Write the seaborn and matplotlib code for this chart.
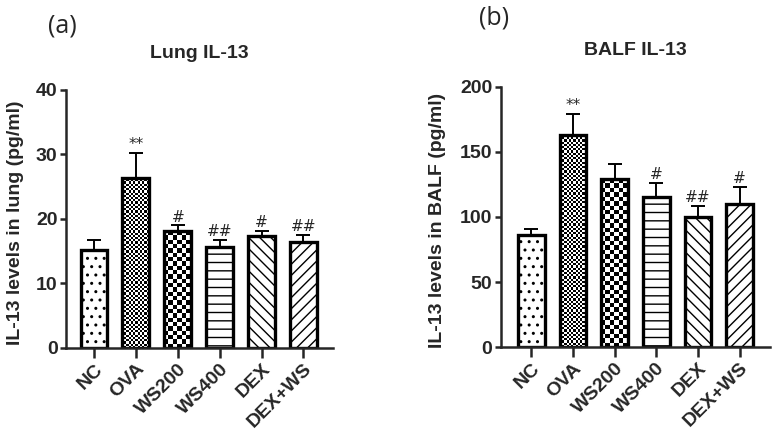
import numpy as np
import matplotlib
matplotlib.use("Agg")
import matplotlib.pyplot as plt
import seaborn as sns

# group names and values
groups = ["NC", "OVA", "WS200", "WS400", "DEX", "DEX+WS"]

lung_mean = [15.2, 26.4, 18.1, 15.7, 17.4, 16.4]
lung_err = [1.5, 3.8, 0.9, 1.1, 0.8, 1.1]
lung_sig = ["", "**", "#", "##", "#", "##"]

balf_mean = [86.0, 162.7, 129.0, 115.7, 100.3, 110.0]
balf_err = [4.7, 16.7, 11.4, 10.3, 8.4, 12.9]
balf_sig = ["", "**", "", "#", "##", "#"]

sns.set_style("ticks")
plt.rcParams['font.family'] = ['Liberation Sans', 'DejaVu Sans']
plt.rcParams['hatch.linewidth'] = 1.0

fig = plt.figure(figsize=(7.75, 4.41), dpi=100)
ax1 = fig.add_axes([0.085, 0.211, 0.345, 0.585])
ax2 = fig.add_axes([0.646, 0.213, 0.347, 0.590])

hatches = ["..", None, None, "--", "\\\\\\", "///"]
checker = {1: 2.2, 2: 4.4}  # bar index -> cell size in px


def panel(ax, means, errs, sigs, title, ylabel, ymax, step, xlim, labx):
    sns.barplot(x=groups, y=means, color="white", edgecolor="black",
                linewidth=2.4, width=0.64, saturation=1, ax=ax)
    ax.set_xlim(*xlim)
    ax.set_ylim(0, ymax)
    ax.set_yticks(np.arange(0, ymax + 1, step))

    # error bars, upper half only
    x = np.arange(len(groups))
    ax.errorbar(x, means, yerr=[np.zeros(len(means)), errs], fmt="none",
                ecolor="black", elinewidth=1.4, capsize=4.7, capthick=1.4,
                zorder=0.5)

    for i, p in enumerate(ax.patches):
        if hatches[i]:
            p.set_hatch(hatches[i])
        if i in checker:
            # checkerboard fill clipped to the bar
            x0, w, h = p.get_x(), p.get_width(), p.get_height()
            (px0, py0), (px1, py1) = ax.transData.transform([(x0, 0), (x0 + w, h)])
            cols = max(1, int(round((px1 - px0) / checker[i])))
            rows = max(1, int(round((py1 - py0) / checker[i])))
            arr = np.indices((rows, cols)).sum(axis=0) % 2
            im = ax.imshow(arr, cmap="gray_r", extent=(x0, x0 + w, 0, h),
                           origin="lower", aspect="auto",
                           interpolation="nearest", zorder=0.8)
            im.set_clip_path(p)
            p.set_facecolor("none")
    ax.set_xlim(*xlim)
    ax.set_ylim(0, ymax)
    ax.set_aspect("auto")

    for i, s in enumerate(sigs):
        if s:
            ax.annotate(s, (i, means[i] + errs[i]), xytext=(0, 0.5),
                        textcoords="offset points", ha="center", va="bottom",
                        fontsize=11, family="DejaVu Sans")

    sns.despine(ax=ax)
    for sp in ["left", "bottom"]:
        ax.spines[sp].set_linewidth(1.8)
    ax.tick_params(axis="y", length=4.5, width=1.8, labelsize=14, pad=1.5)
    ax.tick_params(axis="x", length=7, width=1.8, labelsize=14, pad=2)
    for lab in ax.get_yticklabels():
        lab.set_fontweight("bold")
    plt.setp(ax.get_xticklabels(), rotation=45, ha="right",
             rotation_mode="anchor", fontweight="bold")
    ax.set_ylabel(ylabel, fontsize=14, fontweight="bold")
    ax.yaxis.set_label_coords(labx, 0.485)
    ax.set_title(title, fontsize=14, fontweight="bold", pad=23)


panel(ax1, lung_mean, lung_err, lung_sig, "Lung IL-13",
      "IL-13 levels in lung (pg/ml)", 40, 10, (-0.67, 5.71), -0.158)
panel(ax2, balf_mean, balf_err, balf_sig, "BALF IL-13",
      "IL-13 levels in BALF (pg/ml)", 200, 50, (-0.74, 5.72), -0.205)

fig.text(0.08, 0.94, "(a)", fontsize=18, family="Open Sans",
         ha="center", va="center")
fig.text(0.637, 0.96, "(b)", fontsize=18, family="Open Sans",
         ha="center", va="center")

fig.savefig("out.png", dpi=100)
